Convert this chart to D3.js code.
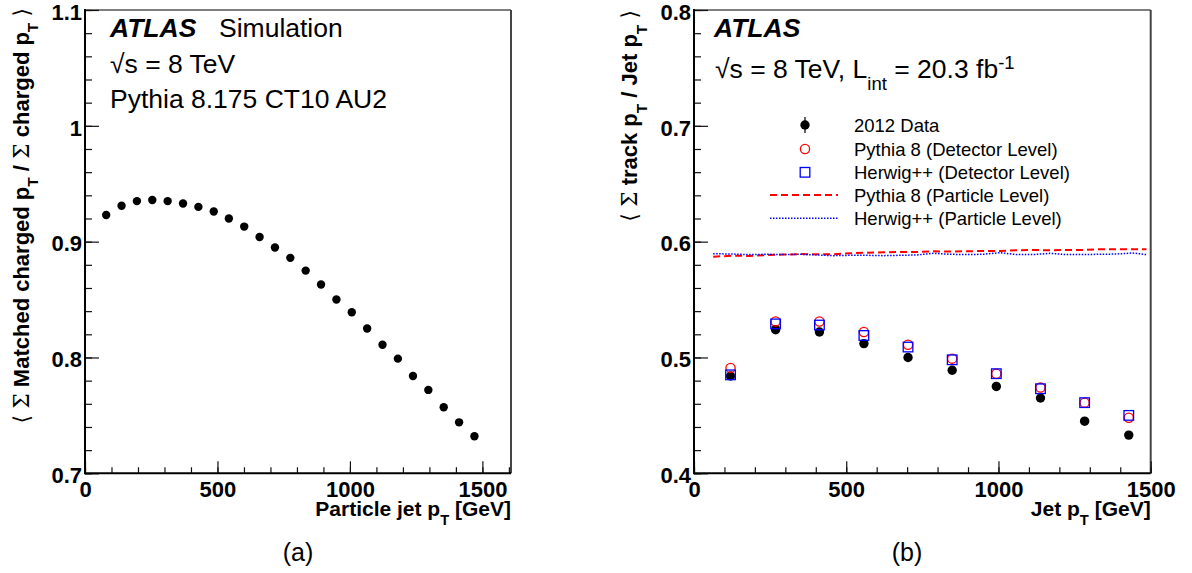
<!DOCTYPE html>
<html><head><meta charset="utf-8">
<script src="https://cdn.jsdelivr.net/npm/d3@7"></script>
<style>
body{margin:0;background:#fff}
svg text{font-family:"Liberation Sans",Arial,Helvetica,sans-serif;fill:#000}
</style>
</head><body>
<svg id="c" width="1192" height="573"></svg>
<script>
// ---------- data ----------
const leftJetPt = [80,138,196,254,312,370,428,486,543,601,659,717,775,833,891,949,1007,1065,1123,1181,1238,1296,1354,1412,1470];
const leftMatchedFrac = [0.923,0.931,0.935,0.936,0.935,0.933,0.930,0.926,0.920,0.913,0.904,0.895,0.886,0.875,0.863,0.850,0.839,0.825,0.811,0.799,0.784,0.772,0.757,0.744,0.732];

const rightJetPt = [120,268,412,558,703,848,993,1138,1283,1428];
const data2012 = [0.484,0.524,0.522,0.512,0.500,0.489,0.475,0.465,0.445,0.433];
const pythiaDetector = [0.491,0.531,0.531,0.522,0.511,0.499,0.486,0.474,0.461,0.448];
const herwigDetector = [0.485,0.529,0.528,0.519,0.509,0.498,0.486,0.473,0.461,0.450];

const particleJetPt = [63,129,184,239,293,348,403,457,512,567,622,676,731,786,840,895,950,1005,1059,1114,1169,1223,1278,1333,1387,1442,1486];
const pythiaParticle = [0.5870,0.5879,0.5876,0.5885,0.5888,0.5893,0.5891,0.5891,0.5899,0.5905,0.5908,0.5911,0.5911,0.5917,0.5914,0.5917,0.5919,0.5919,0.5925,0.5928,0.5925,0.5928,0.5928,0.5934,0.5934,0.5934,0.5934];
const herwigParticle = [0.5896,0.5893,0.5888,0.5891,0.5888,0.5891,0.5885,0.5879,0.5882,0.5882,0.5879,0.5882,0.5885,0.5899,0.5891,0.5888,0.5891,0.5905,0.5888,0.5888,0.5899,0.5888,0.5888,0.5891,0.5893,0.5902,0.5888];

const xMajorTicks = [0,500,1000,1500];
const xMajorLabels = ["0","500","1000","1500"];
const leftYTicks = [0.7,0.8,0.9,1.0,1.1];
const leftYLabels = ["0.7","0.8","0.9","1","1.1"];
const rightYTicks = [0.4,0.5,0.6,0.7,0.8];
const rightYLabels = ["0.4","0.5","0.6","0.7","0.8"];
const legendLabels = ["2012 Data","Pythia 8 (Detector Level)","Herwig++ (Detector Level)","Pythia 8 (Particle Level)","Herwig++ (Particle Level)"];

// ---------- drawing ----------
const svg = d3.select("#c");
const RED = "#ff0000", BLUE = "#0000ff";

function rich(g, x, y, parts, opts) {
  opts = opts || {};
  const fs = opts.fs || 20;
  const t = g.append("text").attr("x", x).attr("y", y)
    .attr("font-size", fs)
    .attr("font-weight", opts.bold ? "bold" : "normal")
    .attr("font-style", opts.italic ? "italic" : "normal")
    .attr("text-anchor", opts.anchor || "start");
  if (opts.transform) t.attr("transform", opts.transform);
  let shift = 0;
  parts.forEach(p => {
    const s = t.append("tspan").text(p.t);
    let target = 0, size = fs;
    if (p.sub) { target = fs * 0.45; size = fs * 0.7; }
    if (p.sup) { target = -fs * 0.33; size = fs * 0.7; }
    s.attr("dy", target - shift).attr("font-size", size);
    if (p.sym) s.attr("font-family", "'DejaVu Serif','Liberation Serif',serif").attr("font-weight", "normal");
    shift = target;
  });
  return t;
}

function panel(cfg) {
  const g = svg.append("g");
  const x = d3.scaleLinear().domain(cfg.xDomain).range([cfg.x0, cfg.x1]);
  const y = d3.scaleLinear().domain(cfg.yDomain).range([cfg.y1, cfg.y0]);

  g.append("line").attr("x1", cfg.x0).attr("x2", cfg.x1).attr("y1", cfg.y0).attr("y2", cfg.y0)
    .attr("stroke", "#555").attr("stroke-width", 1.5);
  g.append("line").attr("x1", cfg.x1).attr("x2", cfg.x1).attr("y1", cfg.y0).attr("y2", cfg.y1)
    .attr("stroke", "#444").attr("stroke-width", 2);

  const xMinor = g.append("g").attr("transform", `translate(0,${cfg.y1})`)
    .call(d3.axisBottom(x).tickValues(cfg.xMinor).tickSize(-6).tickFormat(""));
  const xMaj = g.append("g").attr("transform", `translate(0,${cfg.y1})`)
    .call(d3.axisBottom(x).tickValues(xMajorTicks).tickSize(-12).tickPadding(8)
      .tickFormat((d, i) => xMajorLabels[i]));
  const yMinor = g.append("g").attr("transform", `translate(${cfg.x0},0)`)
    .call(d3.axisLeft(y).tickValues(cfg.yMinor).tickSize(-7).tickFormat(""));
  const yMaj = g.append("g").attr("transform", `translate(${cfg.x0},0)`)
    .call(d3.axisLeft(y).tickValues(cfg.yTicks).tickSize(-14).tickPadding(3)
      .tickFormat((d, i) => cfg.yLabels[i]));
  [xMinor, xMaj, yMinor, yMaj].forEach(a => {
    a.select(".domain").remove();
    a.selectAll(".tick line").attr("stroke", "#111").attr("stroke-width", 1.2);
    a.selectAll(".tick text").attr("font-size", 22).attr("font-weight", "bold")
      .attr("font-family", "'Liberation Sans',Arial,sans-serif").attr("fill", "#000");
  });
  yMaj.selectAll(".tick text").attr("dy", "0.42em");
  g.append("line").attr("x1", cfg.x0).attr("x2", cfg.x0).attr("y1", cfg.y0 - 1).attr("y2", cfg.y1 + 1)
    .attr("stroke", "#000").attr("stroke-width", 2);
  g.append("line").attr("x1", cfg.x0).attr("x2", cfg.x1).attr("y1", cfg.y1).attr("y2", cfg.y1)
    .attr("stroke", "#000").attr("stroke-width", 2);
  return {g, x, y};
}

// ---------- left panel ----------
const L = panel({
  x0: 85, x1: 511, y0: 10, y1: 473.3,
  xDomain: [0, 1608], yDomain: [0.7, 1.1],
  xMinor: d3.range(0, 1601, 100),
  yMinor: d3.range(0, 21).map(i => 0.7 + i * 0.02),
  yTicks: leftYTicks, yLabels: leftYLabels
});
L.g.append("g").selectAll("circle").data(leftJetPt).join("circle")
  .attr("cx", d => L.x(d)).attr("cy", (d, i) => L.y(leftMatchedFrac[i])).attr("r", 4.2).attr("fill", "#000");

rich(L.g, 511, 516, [{t:"Particle jet p"},{t:"T",sub:true},{t:" [GeV]"}], {fs:21, bold:true, anchor:"end"});
rich(L.g, 0, 0, [{t:"⟨",sym:true},{t:" "},{t:"Σ",sym:true},{t:" Matched charged p"},{t:"T",sub:true},{t:" / "},{t:"Σ",sym:true},{t:" charged p"},{t:"T",sub:true},{t:" "},{t:"⟩",sym:true}],
  {fs:22, bold:true, anchor:"end", transform:"translate(28.5,8) rotate(-90)"});

rich(L.g, 110, 36.7, [{t:"ATLAS"}], {fs:26.5, bold:true, italic:true});
rich(L.g, 219, 36.7, [{t:"Simulation"}], {fs:26.5});
rich(L.g, 110, 72.7, [{t:"√s = 8 TeV"}], {fs:26.5});
rich(L.g, 110, 108.3, [{t:"Pythia 8.175 CT10 AU2"}], {fs:26.5});
L.g.append("text").attr("x", 298).attr("y", 561).attr("text-anchor", "middle")
  .attr("font-size", 25).attr("font-family", "'Liberation Serif','Times New Roman',serif").text("(a)");

// ---------- right panel ----------
const R = panel({
  x0: 694, x1: 1150.7, y0: 10, y1: 473.3,
  xDomain: [0, 1500], yDomain: [0.4, 0.8],
  xMinor: d3.range(0, 1501, 100),
  yMinor: d3.range(0, 21).map(i => 0.4 + i * 0.02),
  yTicks: rightYTicks, yLabels: rightYLabels
});

const lineGen = (arr) => d3.line().x((d) => R.x(d)).y((d, i) => R.y(arr[i]));
R.g.append("path").datum(particleJetPt).attr("d", lineGen(pythiaParticle))
  .attr("fill", "none").attr("stroke", RED).attr("stroke-width", 2).attr("stroke-dasharray", "7,4");
R.g.append("path").datum(particleJetPt).attr("d", lineGen(herwigParticle))
  .attr("fill", "none").attr("stroke", BLUE).attr("stroke-width", 1.5).attr("stroke-dasharray", "1.5,1.5");

R.g.append("g").selectAll("circle").data(rightJetPt).join("circle")
  .attr("cx", d => R.x(d)).attr("cy", (d, i) => R.y(data2012[i])).attr("r", 4.7).attr("fill", "#000");
R.g.append("g").selectAll("circle").data(rightJetPt).join("circle")
  .attr("cx", d => R.x(d)).attr("cy", (d, i) => R.y(pythiaDetector[i])).attr("r", 4.6)
  .attr("fill", "none").attr("stroke", RED).attr("stroke-width", 1.3);
R.g.append("g").selectAll("rect").data(rightJetPt).join("rect")
  .attr("x", d => R.x(d) - 4.8).attr("y", (d, i) => R.y(herwigDetector[i]) - 4.8)
  .attr("width", 9.6).attr("height", 9.6)
  .attr("fill", "none").attr("stroke", BLUE).attr("stroke-width", 1.3);

// legend
const legY = [125, 149, 172.3, 195, 218.3];
const lg = R.g.append("g");
lg.append("line").attr("x1", 805).attr("x2", 805).attr("y1", legY[0] - 8).attr("y2", legY[0] + 8).attr("stroke", "#000").attr("stroke-width", 1.2);
lg.append("circle").attr("cx", 805).attr("cy", legY[0]).attr("r", 4.7).attr("fill", "#000");
lg.append("circle").attr("cx", 805).attr("cy", legY[1]).attr("r", 4.6).attr("fill", "none").attr("stroke", RED).attr("stroke-width", 1.3);
lg.append("rect").attr("x", 805 - 4.8).attr("y", legY[2] - 4.8).attr("width", 9.6).attr("height", 9.6)
  .attr("fill", "none").attr("stroke", BLUE).attr("stroke-width", 1.3);
lg.append("line").attr("x1", 770).attr("x2", 838).attr("y1", legY[3]).attr("y2", legY[3])
  .attr("stroke", RED).attr("stroke-width", 2).attr("stroke-dasharray", "7,4");
lg.append("line").attr("x1", 770).attr("x2", 838).attr("y1", legY[4]).attr("y2", legY[4])
  .attr("stroke", BLUE).attr("stroke-width", 1.5).attr("stroke-dasharray", "1.5,1.5");
lg.selectAll("text.leg").data(legendLabels).join("text").attr("class", "leg")
  .attr("x", 854).attr("y", (d, i) => legY[i] + 6.5).attr("font-size", 18.5).text(d => d);

rich(R.g, 1150.7, 516, [{t:"Jet p"},{t:"T",sub:true},{t:" [GeV]"}], {fs:21, bold:true, anchor:"end"});
rich(R.g, 0, 0, [{t:"⟨",sym:true},{t:" "},{t:"Σ",sym:true},{t:" track p"},{t:"T",sub:true},{t:" / Jet p"},{t:"T",sub:true},{t:" "},{t:"⟩",sym:true}],
  {fs:22, bold:true, anchor:"end", transform:"translate(637,10) rotate(-90)"});
rich(R.g, 714, 37, [{t:"ATLAS"}], {fs:26.5, bold:true, italic:true});
rich(R.g, 715, 78, [{t:"√s = 8 TeV, L"},{t:"int",sub:true},{t:" = 20.3 fb"},{t:"-1",sup:true}], {fs:26.5});
R.g.append("text").attr("x", 907).attr("y", 561).attr("text-anchor", "middle")
  .attr("font-size", 25).attr("font-family", "'Liberation Serif','Times New Roman',serif").text("(b)");
</script>
</body></html>
